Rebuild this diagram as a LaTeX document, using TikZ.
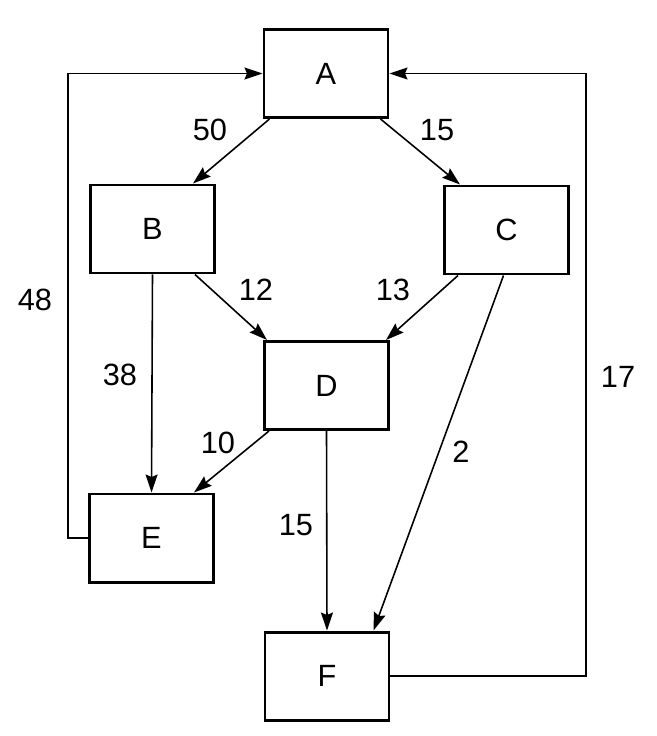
\documentclass[tikz,border=0pt]{standalone}
\usepackage{fontspec}
\setmainfont{Liberation Sans}
\usetikzlibrary{arrows.meta}
\tikzset{
  boxnode/.style={draw,line width=1.7pt,minimum width=2.48cm,minimum height=1.76cm,inner sep=0pt},
  flow/.style={->,line width=0.9pt,>={Stealth[length=0.36cm,width=0.24cm,inset=0.05cm]}},
  num/.style={inner sep=0pt}
}
\begin{document}
\begin{tikzpicture}[font=\fontsize{17.5}{20}\selectfont]
\useasboundingbox (0,0) rectangle (13.12,-14.72);
\node[boxnode] (A) at (6.52,-1.47) {A};
\node[boxnode] (B) at (3.05,-4.58) {B};
\node[boxnode] (C) at (10.13,-4.6) {C};
\node[boxnode] (D) at (6.53,-7.71) {D};
\node[boxnode] (E) at (3.03,-10.76) {E};
\node[boxnode] (F) at (6.54,-13.52) {F};
\coordinate (left) at (1.36,0);
\coordinate (right) at (11.72,0);
\draw[flow] ([xshift=0.14cm]A.south west) -- ([xshift=-0.46cm]B.north east);
\draw[flow] ([xshift=-0.18cm]A.south east) -- ([xshift=0.34cm]C.north west);
\draw[flow] ([xshift=-0.42cm]B.south east) -- ([xshift=0.08cm]D.north west);
\draw[flow] ([xshift=0.3cm]C.south west) -- ([xshift=-0.08cm]D.north east);
\draw[flow] (B.south) -- (E.north);
\draw[flow] ([xshift=0.12cm]D.south west) -- ([xshift=-0.42cm]E.north east);
\draw[flow] (D.south) -- (F.north);
\draw[flow] ([xshift=-0.06cm]C.south) -- ([xshift=-0.34cm]F.north east);
\draw[flow] (E.west) -- (E.west -| left) -- (left |- A.west) -- (A.west);
\draw[flow] (F.east) -- (F.east -| right) -- (right |- A.east) -- (A.east);
\node[num] (l50) at (4.2,-2.6) {50};
\node[num] (l15a) at (8.74,-2.6) {15};
\node[num] (l12) at (5.12,-5.8) {12};
\node[num] (l13) at (7.86,-5.8) {13};
\node[num] (l38) at (2.4,-7.5) {38};
\node[num] (l10) at (4.36,-8.86) {10};
\node[num] (l15b) at (5.92,-10.5) {15};
\node[num] (l2) at (9.22,-9.04) {2};
\node[num] (l48) at (0.7,-6.0) {48};
\node[num] (l17) at (12.36,-7.54) {17};
\end{tikzpicture}
\end{document}
